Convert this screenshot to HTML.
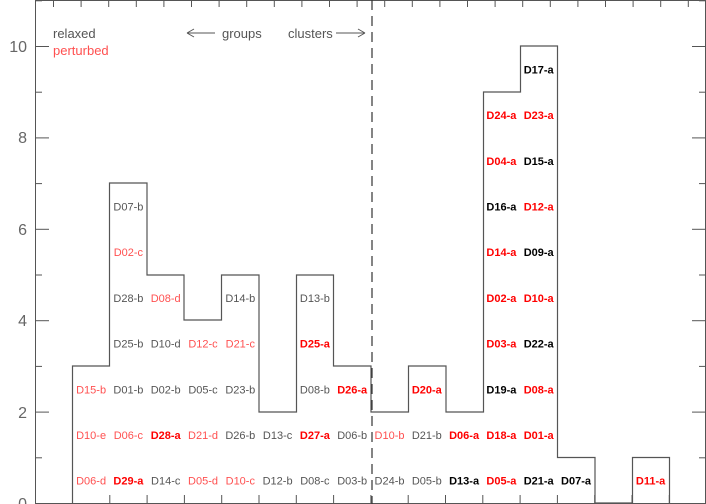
<!DOCTYPE html>
<html><head><style>body{margin:0;background:#fff}svg{display:block}</style></head><body>
<svg width="706" height="504" xmlns="http://www.w3.org/2000/svg" font-family="Liberation Sans, sans-serif">
<g stroke="#555" stroke-width="1" fill="none">
<line x1="35.5" y1="0" x2="35.5" y2="504"/>
<line x1="705.5" y1="0" x2="705.5" y2="504"/>
<line x1="35" y1="503.5" x2="706" y2="503.5"/>
<line x1="35" y1="0.5" x2="706" y2="0.5"/>
</g>
<g stroke="#555" stroke-width="1" id="ticks"></g>
<path fill="none" stroke="#555" stroke-width="1.2" d="M72.5 503 V366 H109.5 V183 H147 V275 H184 V320 H221.5 V275 H259 V412 H296.5 V275 H333.5 V366 H371 V412 H408.5 V366 H446 V412 H483.5 V92 H520.5 V46 H557.5 V457.5 H595 V503 H632.5 V457.5 H669.5 V503"/>
<line x1="372" y1="0" x2="372" y2="504" stroke="#333" stroke-width="1.2" stroke-dasharray="10,6"/>
<g font-size="16" fill="#666" text-anchor="end">
<text x="27" y="509">0</text><text x="27" y="418">2</text><text x="27" y="326">4</text><text x="27" y="235">6</text><text x="27" y="143">8</text><text x="27" y="52">10</text>
</g>
<g font-size="13" fill="#555">
<text x="53" y="38">relaxed</text>
<text x="53" y="55" fill="#ff5050">perturbed</text>
<text x="222" y="38">groups</text>
<text x="288" y="38">clusters</text>
</g>
<g stroke="#555" fill="none"><path d="M187 33 H215 M187 33 l7 -4 M187 33 l7 4"/><path d="M336 33 H365 M365 33 l-7 -4 M365 33 l-7 4"/></g>
<g font-size="11" text-anchor="middle" id="lab"></g>
<script>
var ns="http://www.w3.org/2000/svg",tk=document.getElementById('ticks');
function L(x1,y1,x2,y2){var l=document.createElementNS(ns,'line');l.setAttribute('x1',x1);l.setAttribute('y1',y1);l.setAttribute('x2',x2);l.setAttribute('y2',y2);tk.appendChild(l);}
for(var v=0;v<=11;v++){var y=503.5-v*45.7;var len=v%2?7:14;L(35,y,35+len,y);L(706,y,706-len,y);}
for(var i=0;i<18;i++){var x=72.5+i*37.3;L(x,503,x,495);}
for(var i=0;i<24;i++){var x=53.5+i*27.6;L(x,0,x,7);}
var G='#555',R='#ff5050',BR='#ff0000',BK='#000';
var bins=[
[[ 'D06-d',R],['D10-e',R],['D15-b',R]],
[['D29-a',BR,1],['D06-c',R],['D01-b',G],['D25-b',G],['D28-b',G],['D02-c',R],['D07-b',G]],
[['D14-c',G],['D28-a',BR,1],['D02-b',G],['D10-d',G],['D08-d',R]],
[['D05-d',R],['D21-d',R],['D05-c',G],['D12-c',R]],
[['D10-c',R],['D26-b',G],['D23-b',G],['D21-c',R],['D14-b',G]],
[['D12-b',G],['D13-c',G]],
[['D08-c',G],['D27-a',BR,1],['D08-b',G],['D25-a',BR,1],['D13-b',G]],
[['D03-b',G],['D06-b',G],['D26-a',BR,1]],
[['D24-b',G],['D10-b',R]],
[['D05-b',G],['D21-b',G],['D20-a',BR,1]],
[['D13-a',BK,1],['D06-a',BR,1]],
[['D05-a',BR,1],['D18-a',BR,1],['D19-a',BK,1],['D03-a',BR,1],['D02-a',BR,1],['D14-a',BR,1],['D16-a',BK,1],['D04-a',BR,1],['D24-a',BR,1]],
[['D21-a',BK,1],['D01-a',BR,1],['D08-a',BR,1],['D22-a',BK,1],['D10-a',BR,1],['D09-a',BK,1],['D12-a',BR,1],['D15-a',BK,1],['D23-a',BR,1],['D17-a',BK,1]],
[['D07-a',BK,1]],[],[['D11-a',BR,1]]];
var lab=document.getElementById('lab');
bins.forEach(function(b,i){var cx=72.5+i*37.3+18.6;b.forEach(function(e,k){var t=document.createElementNS(ns,'text');t.setAttribute('x',cx);t.setAttribute('y',503.5-(k+0.5)*45.7+4);t.setAttribute('fill',e[1]);if(e[2])t.setAttribute('font-weight','bold');t.textContent=e[0];lab.appendChild(t);});});
</script>
</svg>
</body></html>
